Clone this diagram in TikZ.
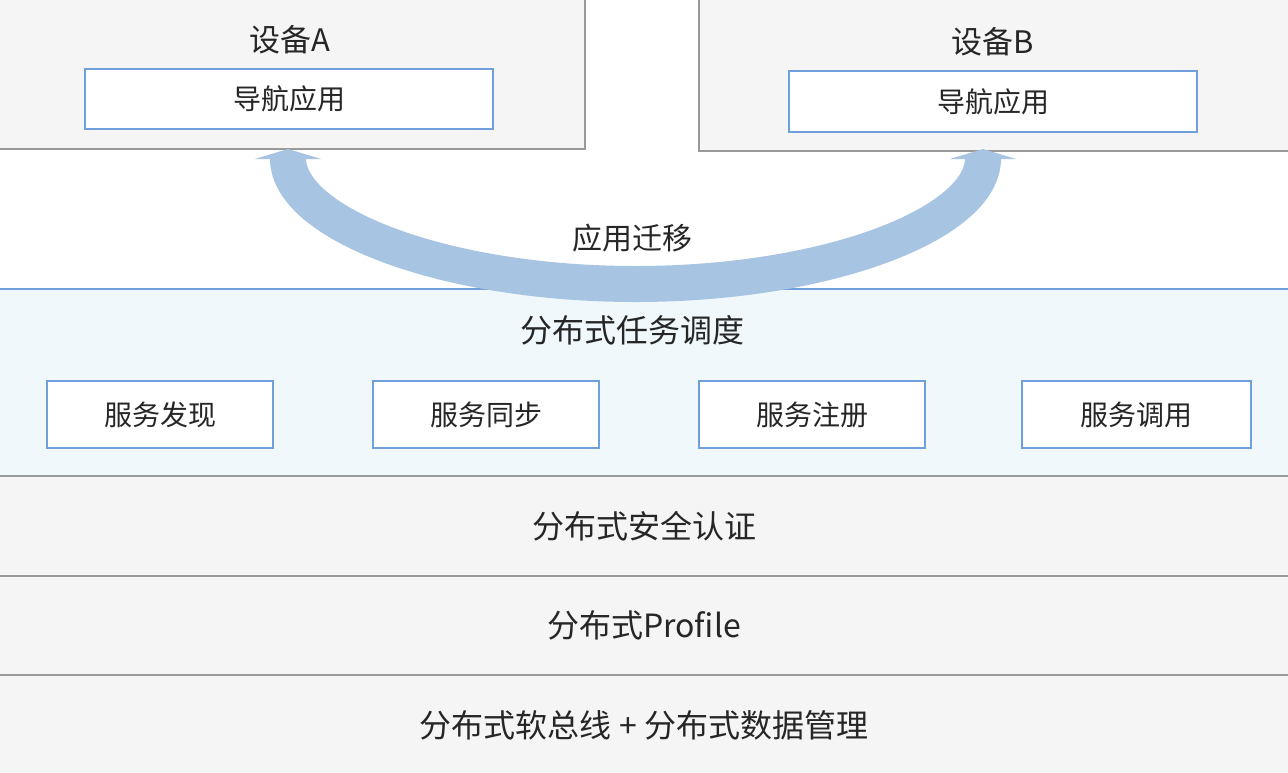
\documentclass[tikz,border=0pt]{standalone}
\usepackage{fontspec}
\setmainfont{Noto Sans CJK SC}
\usetikzlibrary{arrows.meta}
\definecolor{grayfill}{HTML}{F5F5F5}
\definecolor{grayline}{HTML}{999999}
\definecolor{bluefill}{HTML}{F0F8FC}
\definecolor{blueline}{HTML}{6FA0DC}
\definecolor{bandblue}{HTML}{A7C4E2}
\definecolor{txt}{HTML}{262626}
\tikzset{
  devbox/.style={draw=grayline, fill=grayfill, line width=1pt, inner sep=0pt, rectangle},
  appbox/.style={draw=blueline, fill=white, line width=1pt, inner sep=0pt, rectangle,
    text=txt, font=\fontsize{14}{16}\selectfont},
  svcbox/.style={draw=blueline, fill=white, line width=1pt, inner sep=0pt, rectangle,
    minimum width=113pt, minimum height=33.5pt, text=txt, font=\fontsize{14}{16}\selectfont},
  layerbox/.style={draw=grayline, fill=grayfill, line width=1pt, inner sep=0pt, rectangle,
    minimum width=649pt, text=txt, font=\fontsize{16}{18}\selectfont},
  bluelayer/.style={fill=bluefill, inner sep=0pt, rectangle, minimum width=649pt},
  title/.style={text=txt, inner sep=0pt, font=\fontsize{15.5}{18}\selectfont},
  lbl/.style={text=txt, inner sep=0pt, font=\fontsize{16}{18}\selectfont},
  migband/.style={draw=bandblue, line width=18pt,
    {Triangle[width=33pt,length=5pt]}-{Triangle[width=33pt,length=5pt]}}
}
\begin{document}
\begin{tikzpicture}[x=0.5pt,y=-0.5pt]
\useasboundingbox (0,0) rectangle (1288,772);
\clip (0,0) rectangle (1288,772);
\fill[white] (0,0) rectangle (1288,772);

% devices
\node[devbox, minimum width=295pt, minimum height=77pt] (devA) at (290,72) {};
\node[title] (tA) at (290,40) {设备A};
\node[appbox, minimum width=204pt, minimum height=30pt] (appA) at (289,99) {导航应用};

\node[devbox, minimum width=297pt, minimum height=78pt] (devB) at (996,73) {};
\node[title] (tB) at (993,42) {设备B};
\node[appbox, minimum width=204pt, minimum height=30.5pt] (appB) at (993,101.5) {导航应用};

% blue scheduling layer
\node[bluelayer, minimum height=93.5pt] (sched) at (644,382.5) {};
\draw[blueline, line width=1pt] (sched.north west) -- (sched.north east);
\node[lbl] (schedt) at (632,330) {分布式任务调度};
\node[svcbox] (s1) at (160,414.5) {服务发现};
\node[svcbox] (s2) at (486,414.5) {服务同步};
\node[svcbox] (s3) at (812,414.5) {服务注册};
\node[svcbox, minimum width=114.5pt] (s4) at (1136.5,414.5) {服务调用};

% gray layers
\node[layerbox, minimum height=50pt] (l1) at (644,526) {分布式安全认证};
\node[layerbox, minimum height=49.5pt] (l2) at (644,625.5) {分布式Profile};
\node[layerbox, minimum height=50pt] (l3) at (644,725) {分布式软总线 + 分布式数据管理};

% migration arrow
\coordinate (ta) at (288,149);
\draw[migband] (ta) arc[start angle=180, end angle=0, x radius=347.5, y radius=135];
\node[lbl, font=\fontsize{15}{18}\selectfont] (mig) at (632,238) {应用迁移};
\end{tikzpicture}
\end{document}
